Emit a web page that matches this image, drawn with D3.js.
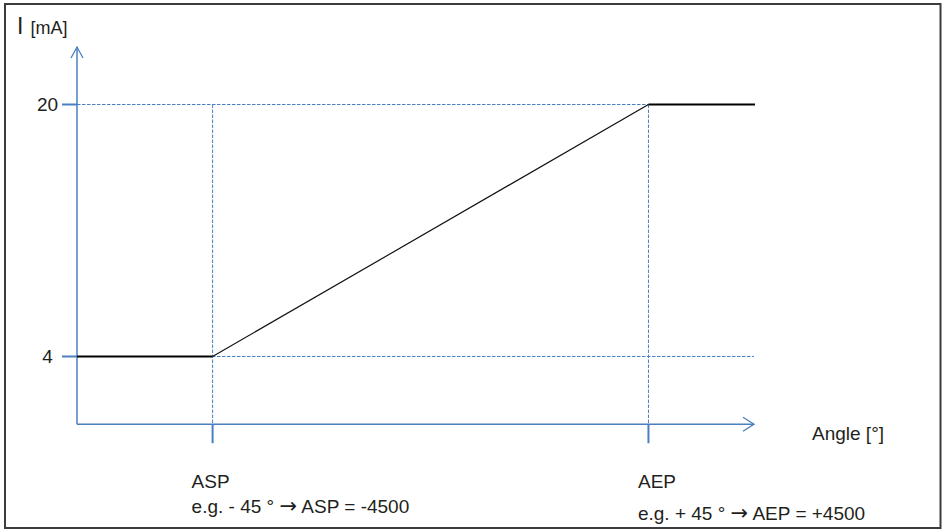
<!DOCTYPE html>
<html>
<head>
<meta charset="utf-8">
<script src="https://cdn.jsdelivr.net/npm/d3@7"></script>
<style>
  html, body { margin: 0; padding: 0; background: #fff; }
  svg { display: block; }
  text { font-family: "Liberation Sans", Arial, sans-serif; fill: #231f20; }
</style>
</head>
<body>
<svg id="chart" width="944" height="532"></svg>
<script>
// ---- data ----
const yTickValues = [4, 20];
const yTickLabels = ["4", "20"];
const keyAngles = [-45, 45];            // ASP, AEP
const keyNames = ["ASP", "AEP"];
const notePrefix = ["e.g. - 45 ° ", "e.g. + 45 ° "];
const noteSuffix = [" ASP = -4500", " AEP = +4500"];
const curveAngles = [-73, -45, 45, 67];
const curveCurrent = [4, 4, 20, 20];
const xAxisLabel = "Angle [°]";
const yAxisLabelMain = "I";
const yAxisLabelUnit = "[mA]";
const angleDomain = [-73, 67];
const currentDomain = [-0.3, 23.65];

// ---- drawing ----
const svg = d3.select("#chart");
const blue = "#4a7fc0";
const fs = 19;

const x = d3.scaleLinear().domain(angleDomain).range([77, 755]);
const y = d3.scaleLinear().domain([4, 20]).range([356.5, 104.5]);

// frame
svg.append("rect").attr("x", 5).attr("y", 4).attr("width", 935.5).attr("height", 524)
  .attr("fill", "none").attr("stroke", "#3c3c3c").attr("stroke-width", 2);

const x0 = x(angleDomain[0]);
const yBase = y(currentDomain[0]);
const yTop = y(currentDomain[1]);
const xEnd = x(angleDomain[1]) - 1;

// dashed guide lines
const g = svg.append("g").attr("stroke", blue).attr("stroke-width", 1)
  .attr("stroke-dasharray", "3.5,1.5").attr("fill", "none");
g.append("line").attr("x1", x0).attr("x2", x(keyAngles[1]))
  .attr("y1", y(20)).attr("y2", y(20));
g.append("line").attr("x1", x0).attr("x2", xEnd)
  .attr("y1", y(4)).attr("y2", y(4));
keyAngles.forEach(a => {
  g.append("line").attr("x1", x(a)).attr("x2", x(a))
    .attr("y1", y(20)).attr("y2", yBase);
});

// axes
const ax = svg.append("g").attr("stroke", blue).attr("fill", "none");
ax.append("line").attr("x1", x0).attr("x2", x0).attr("y1", yBase).attr("y2", yTop).attr("stroke-width", 1.5);
ax.append("line").attr("x1", x0).attr("x2", xEnd).attr("y1", yBase).attr("y2", yBase).attr("stroke-width", 1.5);
ax.append("path").attr("d", `M${x0 - 6},${yTop + 11} L${x0},${yTop} L${x0 + 6},${yTop + 11}`).attr("stroke-width", 1.3);
ax.append("path").attr("d", `M${xEnd - 11},${yBase - 7} L${xEnd},${yBase} L${xEnd - 11},${yBase + 7}`).attr("stroke-width", 1.3);

// y ticks
yTickValues.forEach((v, i) => {
  ax.append("line").attr("x1", x0 - 15).attr("x2", x0).attr("y1", y(v)).attr("y2", y(v)).attr("stroke-width", 2);
  svg.append("text").attr("x", 47.5).attr("y", y(v)).attr("dy", "0.35em")
    .attr("text-anchor", "middle").attr("font-size", fs).text(yTickLabels[i]);
});

// x key ticks and labels
keyAngles.forEach(a => {
  ax.append("line").attr("x1", x(a)).attr("x2", x(a)).attr("y1", yBase).attr("y2", yBase + 19).attr("stroke-width", 2);
});
const labelX = [x(keyAngles[0]) - 21, x(keyAngles[1]) - 10.5];
const nameY = [488, 488];
const noteY = [512.5, 520];
keyAngles.forEach((a, i) => {
  svg.append("text").attr("x", labelX[i]).attr("y", nameY[i]).attr("font-size", fs).text(keyNames[i]);
  const t = svg.append("text").attr("x", labelX[i]).attr("y", noteY[i]).attr("font-size", fs);
  t.append("tspan").text(notePrefix[i]);
  t.append("tspan").style("font-family", "'DejaVu Sans', sans-serif").attr("font-size", 21).text("\u2192");
  t.append("tspan").text(noteSuffix[i]);
});

// axis labels
svg.append("text").attr("x", 812).attr("y", 440).attr("font-size", fs).text(xAxisLabel);
const yl = svg.append("text").attr("x", 17).attr("y", 34.3);
yl.append("tspan").attr("font-size", 23).text(yAxisLabelMain);
yl.append("tspan").attr("font-size", 18).attr("x", 30.5).text(yAxisLabelUnit);

// curve
const pts = curveAngles.map((a, i) => [x(a), y(curveCurrent[i])]);
const line = d3.line();
svg.append("path").attr("d", line([pts[0], pts[1]])).attr("stroke", "#000").attr("stroke-width", 2.2).attr("fill", "none");
svg.append("path").attr("d", line([pts[1], pts[2]])).attr("stroke", "#111").attr("stroke-width", 1.2).attr("fill", "none");
svg.append("path").attr("d", line([pts[2], pts[3]])).attr("stroke", "#000").attr("stroke-width", 2.2).attr("fill", "none");
</script>
</body>
</html>
